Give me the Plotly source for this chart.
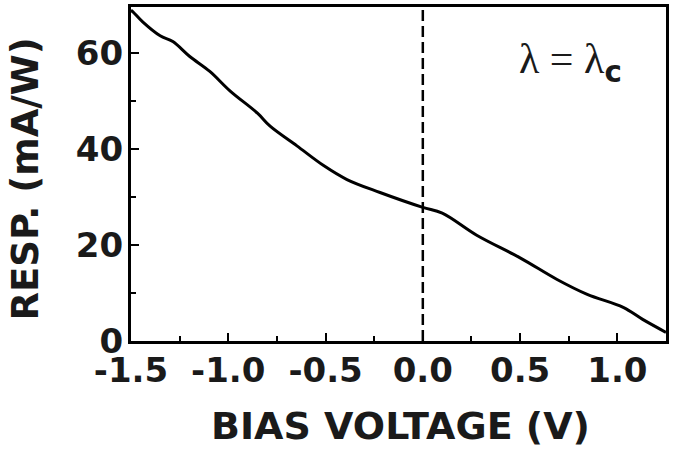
import plotly.graph_objects as go

# Data
bias_v = [-1.5, -1.49, -1.44, -1.35, -1.285, -1.198, -1.095, -0.99, -0.85, -0.785,
          -0.647, -0.51, -0.39, -0.22, 0.0, 0.10, 0.277, 0.5, 0.69, 0.845, 1.03, 1.13, 1.25]
resp = [68.8, 68.5, 66.4, 63.5, 62.3, 59.2, 56.1, 52.0, 47.4, 44.7,
        40.6, 36.5, 33.6, 30.9, 27.8, 26.6, 22.0, 17.3, 12.8, 9.7, 7.0, 4.5, 1.8]

x_range = [-1.5, 1.25]
y_range = [0, 69.5]
x_tickvals = [-1.5, -1.0, -0.5, 0.0, 0.5, 1.0]
x_ticktext = ["-1.5", "-1.0", "-0.5", "0.0", "0.5", "1.0"]
y_tickvals = [0, 20, 40, 60]
y_ticktext = ["0", "20", "40", "60"]
marker_v = 0.0

FONT = "DejaVu Sans"
INK = "#1a1a1a"

fig = go.Figure()
fig.add_trace(go.Scatter(x=bias_v, y=resp, mode="lines", line_shape="spline",
                         line=dict(color="black", width=3), showlegend=False))
fig.add_trace(go.Scatter(x=[marker_v, marker_v], y=y_range, mode="lines",
                         line=dict(color="black", width=2.5, dash="11px,5px"),
                         showlegend=False))

tickfont = dict(size=34, family=FONT, weight="bold", color=INK)

fig.update_layout(
    width=683, height=459,
    margin=dict(l=131, r=17, t=4, b=118),
    paper_bgcolor="white", plot_bgcolor="white",
    font=dict(family=FONT, color=INK),
    xaxis=dict(range=x_range, tickvals=x_tickvals, ticktext=x_ticktext,
               ticks="inside", ticklen=8, tickwidth=2, tickcolor="black",
               minor=dict(dtick=0.25, tick0=0, ticks="inside", ticklen=5,
                          tickwidth=2, tickcolor="black"),
               showline=True, linewidth=3, linecolor="black", mirror=True,
               showgrid=False, zeroline=False,
               tickfont=tickfont, ticklabelstandoff=-3),
    yaxis=dict(range=y_range, tickvals=y_tickvals, ticktext=y_ticktext,
               ticks="inside", ticklen=8, tickwidth=2, tickcolor="black",
               minor=dict(dtick=10, tick0=0, ticks="inside", ticklen=5,
                          tickwidth=2, tickcolor="black"),
               showline=True, linewidth=3, linecolor="black", mirror=True,
               showgrid=False, zeroline=False,
               tickfont=tickfont, ticklabelstandoff=-2),
)

fig.add_annotation(text="BIAS VOLTAGE (V)", xref="paper", yref="paper",
                   x=(401 - 131) / 535, y=-(427 - 341) / 337,
                   showarrow=False, font=dict(size=38, family=FONT, weight="bold", color=INK),
                   xanchor="center", yanchor="middle")
fig.add_annotation(text="RESP. (mA/W)", xref="paper", yref="paper",
                   x=-(131 - 25) / 535, y=(341 - 178) / 337, textangle=-90,
                   showarrow=False, font=dict(size=37, family=FONT, weight="bold", color=INK),
                   xanchor="center", yanchor="middle")
fig.add_annotation(text="λ = λ<sub><span style='font-family:DejaVu Sans;font-weight:bold'>c</span></sub>",
                   xref="paper", yref="paper",
                   x=(570 - 131) / 535, y=(341 - 60) / 337,
                   showarrow=False, font=dict(size=42, family="Liberation Serif", color=INK),
                   xanchor="center", yanchor="middle")

fig.write_html("out.html")
